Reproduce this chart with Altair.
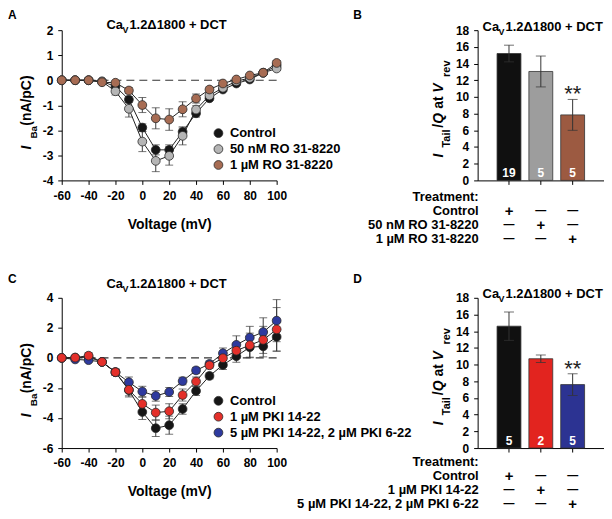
import altair as alt
import pandas as pd

FONT = "Liberation Sans"

voltages = [-60, -50, -40, -30, -20, -10, 0, 10, 20, 30, 40, 50, 60, 70, 80, 90, 100]

# ---- Panel A (I-V, RO 31-8220) ----
a_series = ["Control", "50 nM RO 31-8220", "1 \u00b5M RO 31-8220"]
a_colors = ["#161616", "#b5b5b5", "#a76c53"]
a_control = [0, 0, 0, -0.05, -0.25, -0.77, -1.89, -2.78, -2.78, -2.06, -1.32, -0.72, -0.37, -0.13, 0.03, 0.30, 0.58]
a_control_err = [0.02, 0.02, 0.02, 0.04, 0.08, 0.12, 0.15, 0.2, 0.2, 0.15, 0.15, 0.08, 0.06, 0.05, 0.05, 0.05, 0.08]
a_50nm = [0, 0, 0, -0.05, -0.44, -1.14, -2.45, -3.22, -3.02, -2.22, -1.17, -0.61, -0.30, -0.04, 0.09, 0.30, 0.47]
a_50nm_err = [0.02, 0.02, 0.02, 0.04, 0.15, 0.33, 0.4, 0.43, 0.37, 0.36, 0.15, 0.1, 0.06, 0.05, 0.05, 0.05, 0.08]
a_1um = [0, 0, 0, -0.08, -0.10, -0.41, -0.99, -1.52, -1.57, -1.16, -0.73, -0.37, -0.13, 0.03, 0.19, 0.30, 0.69]
a_1um_err = [0.02, 0.02, 0.02, 0.04, 0.05, 0.12, 0.3, 0.42, 0.43, 0.3, 0.18, 0.1, 0.06, 0.05, 0.05, 0.05, 0.1]

# ---- Panel C (I-V, PKI) ----
c_series = ["Control", "1 \u00b5M PKI 14-22", "5 \u00b5M PKI 14-22, 2 \u00b5M PKI 6-22"]
c_colors = ["#161616", "#e4302a", "#2e3a9e"]
c_control = [0, 0.02, 0.05, -0.27, -0.95, -2.15, -3.6, -4.68, -4.48, -3.4, -2.2, -1.2, -0.47, 0.11, 0.71, 0.77, 1.4]
c_control_err = [0.05, 0.05, 0.08, 0.1, 0.2, 0.45, 0.5, 0.55, 0.6, 0.35, 0.3, 0.2, 0.3, 0.4, 0.7, 0.7, 0.95]
c_1um = [0, 0.02, 0.15, -0.27, -0.95, -2.12, -3.06, -3.64, -3.55, -2.47, -1.57, -0.49, -0.02, 0.48, 0.85, 1.2, 1.9]
c_1um_err = [0.05, 0.08, 0.2, 0.1, 0.2, 0.4, 0.45, 0.5, 0.5, 0.4, 0.3, 0.2, 0.35, 0.5, 0.8, 0.9, 1.45]
c_5um = [0, -0.1, -0.15, -0.27, -0.95, -1.62, -2.24, -2.53, -2.27, -1.54, -0.83, -0.4, 0.31, 0.87, 1.35, 1.72, 2.48]
c_5um_err = [0.05, 0.08, 0.1, 0.1, 0.2, 0.35, 0.35, 0.35, 0.3, 0.25, 0.2, 0.2, 0.35, 0.6, 0.75, 0.95, 1.4]

# ---- Panel B (bars) ----
b_cats = ["Control", "50 nM RO 31-8220", "1 \u00b5M RO 31-8220"]
b_vals = [15.2, 13.05, 7.85]
b_errs = [1.0, 1.85, 1.85]
b_n = ["19", "5", "5"]
b_stars = ["", "", "**"]
b_colors = ["#101010", "#9d9d9d", "#9c5a41"]

# ---- Panel D (bars) ----
d_cats = ["Control", "1 \u00b5M PKI 14-22", "5 \u00b5M PKI 14-22, 2 \u00b5M PKI 6-22"]
d_vals = [14.6, 10.7, 7.6]
d_errs = [1.7, 0.45, 1.3]
d_n = ["5", "2", "5"]
d_stars = ["", "", "**"]
d_colors = ["#101010", "#e2241f", "#2c3392"]

signs = [["+", "\u2014", "\u2014"], ["\u2014", "+", "\u2014"], ["\u2014", "\u2014", "+"]]

W_IV, W_BAR, H = 216, 127, 151


def txt(t, x, y, size=13, weight="bold", style="normal", angle=0, align="left", color="black"):
    return alt.Chart(pd.DataFrame({"t": [t]})).mark_text(
        font=FONT, fontSize=size, fontWeight=weight, fontStyle=style, angle=angle,
        align=align, baseline="alphabetic", color=color
    ).encode(x=alt.value(x), y=alt.value(y), text="t:N")


def title_pieces(x0, y0):
    return [
        txt("Ca", x0, y0),
        txt("V", x0 + 16, y0 + 4, size=9),
        txt("1.2\u03941800 + DCT", x0 + 23, y0),
    ]


def iv_panel(series, colors, ys, errs, draw_order, ydom, yvals, letter, letter_y, title_y):
    rows = []
    for s in draw_order:
        i = series.index(s)
        for v, y, e in zip(voltages, ys[i], errs[i]):
            rows.append({"series": s, "v": v, "y": y, "lo": y - e, "hi": y + e})
    df = pd.DataFrame(rows)

    xax = alt.Axis(values=list(range(-60, 101, 20)), title="Voltage (mV)", titleY=48,
                   titleBaseline="alphabetic", labelExpr="'' + datum.value", tickSize=4,
                   labelPadding=6, grid=False, labelFlush=False, labelOverlap=False)
    yax = alt.Axis(values=yvals, title=None, labelExpr="'' + datum.value", tickSize=4,
                   labelPadding=5, grid=False, labelFlush=False, labelOverlap=False)
    xs = alt.Scale(domain=[-60, 100], nice=False, zero=False)
    ysc = alt.Scale(domain=ydom, nice=False, zero=False)

    zero = alt.Chart(pd.DataFrame({"x0": [-60], "x1": [100], "y0": [0]})).mark_rule(
        color="#333333", strokeWidth=1.2, strokeDash=[8, 5]
    ).encode(x=alt.X("x0:Q", scale=xs, axis=xax), x2="x1:Q", y=alt.Y("y0:Q", scale=ysc, axis=yax))

    base = alt.Chart(df)
    ex = alt.X("v:Q", scale=xs, axis=xax)
    err = base.mark_rule(color="#3a3a3a", strokeWidth=1).encode(
        x=ex, y=alt.Y("lo:Q", scale=ysc, axis=yax), y2="hi:Q")
    cap_lo = base.mark_tick(orient="horizontal", size=8, thickness=1, color="#3a3a3a").encode(
        x=ex, y=alt.Y("lo:Q", scale=ysc, axis=yax))
    cap_hi = base.mark_tick(orient="horizontal", size=8, thickness=1, color="#3a3a3a").encode(
        x=ex, y=alt.Y("hi:Q", scale=ysc, axis=yax))
    line = base.mark_line(color="#222222", strokeWidth=1).encode(
        x=ex, y=alt.Y("y:Q", scale=ysc, axis=yax), detail="series:N", order="v:Q")
    pts = base.mark_circle(size=78, opacity=1, stroke="#2a2a2a", strokeWidth=0.8).encode(
        x=ex, y=alt.Y("y:Q", scale=ysc, axis=yax),
        fill=alt.Fill("series:N", scale=alt.Scale(domain=series, range=colors),
                      legend=alt.Legend(title=None, orient="none", legendX=151, legendY=97,
                                        symbolType="circle", symbolSize=78,
                                        symbolStrokeColor="#2a2a2a", symbolStrokeWidth=0.8,
                                        symbolOpacity=1, labelFont=FONT, labelFontSize=13,
                                        labelFontWeight="bold", labelColor="black",
                                        rowPadding=2, labelOffset=5, padding=0,
                                        labelLimit=400)))

    ytitle = [
        txt("I", -31, 120, size=14, style="italic", angle=270),
        txt("Ba", -25, 109, size=10, angle=270),
        txt("(nA/pC)", -31, 96, size=14, angle=270),
    ]
    extra = [txt(letter, -54, letter_y, size=12)] + title_pieces(45, title_y) + ytitle
    return alt.layer(zero, err, cap_lo, cap_hi, line, pts, *extra).properties(width=W_IV, height=H)


def bar_panel(cats, vals, errs, ns, stars, colors, letter, letter_y, title_y, row_ys):
    df = pd.DataFrame({"cat": cats, "val": vals,
                       "lo": [v - e for v, e in zip(vals, errs)],
                       "hi": [v + e for v, e in zip(vals, errs)],
                       "n": ns, "star": stars, "zero": [0, 0, 0]})
    xs = alt.Scale(domain=cats, paddingInner=0.25, paddingOuter=0.61)
    ysc = alt.Scale(domain=[0, 18], nice=False)
    xax = alt.Axis(labels=False, title=None, tickSize=4, grid=False)
    yax = alt.Axis(values=list(range(0, 19, 2)), title=None, tickSize=4, labelPadding=5, grid=False,
                   labelFlush=False, labelOverlap=False)
    ex = alt.X("cat:N", sort=cats, scale=xs, axis=xax)
    base = alt.Chart(df)
    bars = base.mark_bar(stroke="#333333", strokeWidth=0.8).encode(
        x=ex, y=alt.Y("val:Q", scale=ysc, axis=yax),
        fill=alt.Fill("cat:N", scale=alt.Scale(domain=cats, range=colors), legend=None))
    err = base.mark_rule(color="#333333", strokeWidth=1).encode(
        x=ex, y=alt.Y("lo:Q", scale=ysc, axis=yax), y2="hi:Q")
    cap_lo = base.mark_tick(orient="horizontal", size=10, thickness=1, color="#333333").encode(
        x=ex, y=alt.Y("lo:Q", scale=ysc, axis=yax))
    cap_hi = base.mark_tick(orient="horizontal", size=10, thickness=1, color="#333333").encode(
        x=ex, y=alt.Y("hi:Q", scale=ysc, axis=yax))
    nlab = base.mark_text(font=FONT, fontSize=12, fontWeight="bold", color="white",
                          baseline="alphabetic", dy=-3).encode(
        x=ex, y=alt.Y("zero:Q", scale=ysc, axis=yax), text="n:N")
    star = base.mark_text(font=FONT, fontSize=22, color="#222222", baseline="alphabetic", dy=2).encode(
        x=ex, y=alt.Y("hi:Q", scale=ysc, axis=yax), text="star:N")

    layers = [bars, err, cap_lo, cap_hi, nlab, star]
    # y-axis title  I_Tail / Q at V_rev
    layers += [
        txt("I", -35, 128, size=14, style="italic", angle=270),
        txt("Tail", -28, 118, size=11, angle=270),
        txt("/", -35, 98, size=14, angle=270),
        txt("Q", -35, 94, size=14, style="italic", angle=270),
        txt("at", -35, 79, size=14, angle=270),
        txt("V", -35, 63, size=14, style="italic", angle=270),
        txt("rev", -28, 47, size=11, angle=270),
    ]
    layers += [txt(letter, -125, letter_y, size=12)] + title_pieces(5, title_y)
    # treatment table
    layers.append(txt("Treatment:", 1, row_ys[0], align="right"))
    for k, lab in enumerate(cats):
        ry = row_ys[k + 1]
        layers.append(txt(lab, 1, ry, align="right"))
        sdf = pd.DataFrame({"cat": cats, "sym": signs[k]})
        sbase = alt.Chart(sdf)
        layers.append(sbase.transform_filter(alt.datum.sym == "+").mark_text(
            font=FONT, fontSize=15, fontWeight="bold", baseline="alphabetic", color="black"
        ).encode(x=ex, y=alt.value(ry + 1), text="sym:N"))
        layers.append(sbase.transform_filter(alt.datum.sym != "+").mark_text(
            font=FONT, fontSize=11, fontWeight="bold", baseline="alphabetic", color="black"
        ).encode(x=ex, y=alt.value(ry - 1), text="sym:N"))
    return alt.layer(*layers).properties(width=W_BAR, height=H)


panel_a = iv_panel(a_series, a_colors, [a_control, a_50nm, a_1um],
                   [a_control_err, a_50nm_err, a_1um_err], a_series,
                   [-4, 2], [-4, -3, -2, -1, 0, 1, 2], "A", -11, -1)
panel_c = iv_panel(c_series, c_colors, [c_control, c_1um, c_5um],
                   [c_control_err, c_1um_err, c_5um_err],
                   [c_series[0], c_series[2], c_series[1]],
                   [-6, 4], [-6, -4, -2, 0, 2, 4], "C", -15, -10)
panel_b = bar_panel(b_cats, b_vals, b_errs, b_n, b_stars, b_colors, "B", -11, 1,
                    [172, 186, 200, 214])
panel_d = bar_panel(d_cats, d_vals, d_errs, d_n, d_stars, d_colors, "D", -15, 0,
                    [169, 183, 197, 211])

chart = alt.concat(panel_a, panel_b, panel_c, panel_d, columns=2,
                   spacing={"row": 118, "column": 202}, bounds="flush").resolve_scale(
    fill="independent", x="independent", y="independent"
).resolve_legend(fill="independent").properties(
    padding=0
).configure_view(stroke=None).configure_axis(
    labelFont=FONT, labelFontSize=12, labelFontWeight="bold", labelColor="black",
    titleFont=FONT, titleFontSize=14, titleFontWeight="bold", titleColor="black",
    domainColor="black", tickColor="black", domainWidth=1, tickWidth=1
)

chart.save("out.html", embed_options={"renderer": "svg", "actions": False})
